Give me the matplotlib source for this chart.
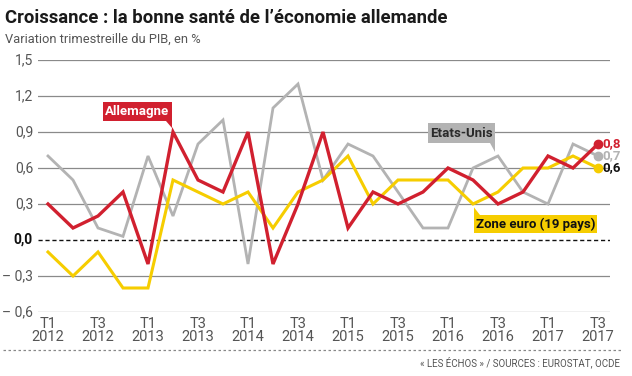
import matplotlib
matplotlib.use("Agg")
import matplotlib.pyplot as plt
from matplotlib.patches import Rectangle, Polygon
from matplotlib.lines import Line2D

plt.rcParams['font.family'] = ['Roboto', 'DejaVu Sans']

# ---- data ----
quarters = ["T1\n2012", "T2\n2012", "T3\n2012", "T4\n2012",
            "T1\n2013", "T2\n2013", "T3\n2013", "T4\n2013",
            "T1\n2014", "T2\n2014", "T3\n2014", "T4\n2014",
            "T1\n2015", "T2\n2015", "T3\n2015", "T4\n2015",
            "T1\n2016", "T2\n2016", "T3\n2016", "T4\n2016",
            "T1\n2017", "T2\n2017", "T3\n2017"]
allemagne = [0.3, 0.1, 0.2, 0.4, -0.2, 0.9, 0.5, 0.4, 0.9, -0.2, 0.3, 0.9,
             0.1, 0.4, 0.3, 0.4, 0.6, 0.5, 0.3, 0.4, 0.7, 0.6, 0.8]
etats_unis = [0.7, 0.5, 0.1, 0.03, 0.7, 0.2, 0.8, 1.0, -0.2, 1.1, 1.3, 0.5,
              0.8, 0.7, 0.4, 0.1, 0.1, 0.6, 0.7, 0.4, 0.3, 0.8, 0.7]
zone_euro = [-0.1, -0.3, -0.1, -0.4, -0.4, 0.5, 0.4, 0.3, 0.4, 0.1, 0.4, 0.5,
             0.7, 0.3, 0.5, 0.5, 0.5, 0.3, 0.4, 0.6, 0.6, 0.7, 0.6]
yticks = [-0.6, -0.3, 0.0, 0.3, 0.6, 0.9, 1.2, 1.5]
ytick_labels = ["\u2013 0,6", "\u2013 0,3", "0,0", "0,3", "0,6", "0,9", "1,2", "1,5"]
end_labels = ["0,8", "0,7", "0,6"]

RED = "#d1202f"
GREY = "#b3b3b3"
YELLOW = "#f6cd00"
TXT = "#555555"

W, H = 632, 376
fig = plt.figure(figsize=(W / 100, H / 100), dpi=100)
fig.patch.set_facecolor("white")

ax = fig.add_axes([38 / W, 1 - 312 / H, 572 / W, 252 / H])
ax.set_xlim(-0.4, 22.48)
ax.set_ylim(-0.6, 1.5)
for s in ax.spines.values():
    s.set_visible(False)
ax.set_facecolor("none")

# grid
for v in yticks:
    if v == 0:
        ax.axhline(v, color="#111111", lw=1.0, ls=(0, (3, 2)), zorder=1)
    else:
        ax.axhline(v, color="#8a8a8a", lw=0.9, zorder=1)

x = list(range(len(quarters)))
ax.plot(x, etats_unis, color=GREY, lw=2.0, zorder=3, solid_joinstyle="miter")
ax.plot(x, zone_euro, color=YELLOW, lw=2.2, zorder=4, solid_joinstyle="miter")
ax.plot(x, allemagne, color=RED, lw=2.4, zorder=5, solid_joinstyle="miter")

# end markers
last = len(quarters) - 1
for series, col, lab, tc in [(allemagne, RED, end_labels[0], RED),
                             (etats_unis, GREY, end_labels[1], GREY),
                             (zone_euro, YELLOW, end_labels[2], "#111111")]:
    ax.plot([last], [series[last]], "o", color=col, ms=6, zorder=6, clip_on=False)
    ax.text(last + 0.16, series[last], lab, color=tc, fontsize=9.5, fontweight="bold",
            va="center", ha="left", zorder=7, clip_on=False)

# y tick labels
ax.set_yticks([])
ax.set_xticks([])
for v, lab in zip(yticks, ytick_labels):
    bold = (v == 0)
    ax.text(-0.6, v, lab, ha="right", va="center", fontsize=10,
            color="#111111" if bold else TXT,
            fontweight="bold" if bold else "normal", clip_on=False)

# x tick labels
for i in range(0, len(quarters), 2):
    ax.text(i, -0.64, quarters[i], ha="center", va="top", fontsize=10.5,
            color=TXT, linespacing=0.9, clip_on=False)

# label boxes
def label_box(x0, x1, y0, y1, text, fc, tc, tri):
    ax.add_patch(Rectangle((x0, y0), x1 - x0, y1 - y0, facecolor=fc,
                           edgecolor="none", zorder=8, clip_on=False))
    ax.add_patch(Polygon(tri, closed=True, facecolor=fc, edgecolor="none",
                         zorder=8, clip_on=False))
    ax.text((x0 + x1) / 2, (y0 + y1) / 2, text, ha="center", va="center",
            color=tc, fontsize=9.5, fontweight="bold", zorder=9)

label_box(2.2, 4.96, 0.99, 1.15, "Allemagne", RED, "white",
          [(4.72, 0.99), (4.96, 0.99), (4.96, 0.935)])
label_box(15.2, 17.88, 0.808, 0.975, "Etats-Unis", GREY, "#2a2a2a",
          [(17.66, 0.808), (17.88, 0.808), (17.88, 0.735)])
label_box(17.04, 21.96, 0.058, 0.208, "Zone euro (19 pays)", YELLOW, "#111111",
          [(17.04, 0.208), (17.28, 0.208), (17.04, 0.272)])

# titles
fig.text(5 / W, 1 - 18 / H, "Croissance : la bonne santé de l\u2019économie allemande",
         fontsize=13.3, fontweight="bold", color="#1a1a1a", va="center", ha="left")
fig.text(5 / W, 1 - 39 / H, "Variation trimestreille du PIB, en %",
         fontsize=9.3, color=TXT, va="center", ha="left")

# bottom dotted line and source
fig.add_artist(Line2D([3 / W, 622 / W], [1 - 350 / H, 1 - 350 / H],
                      color="#888888", lw=0.9, ls=(0, (2, 2))))
fig.text(620 / W, 1 - 362 / H, "« LES ÉCHOS » / SOURCES : EUROSTAT, OCDE",
         fontsize=7, color=TXT, ha="right", va="center")

fig.savefig("out.png", dpi=100, facecolor="white")
